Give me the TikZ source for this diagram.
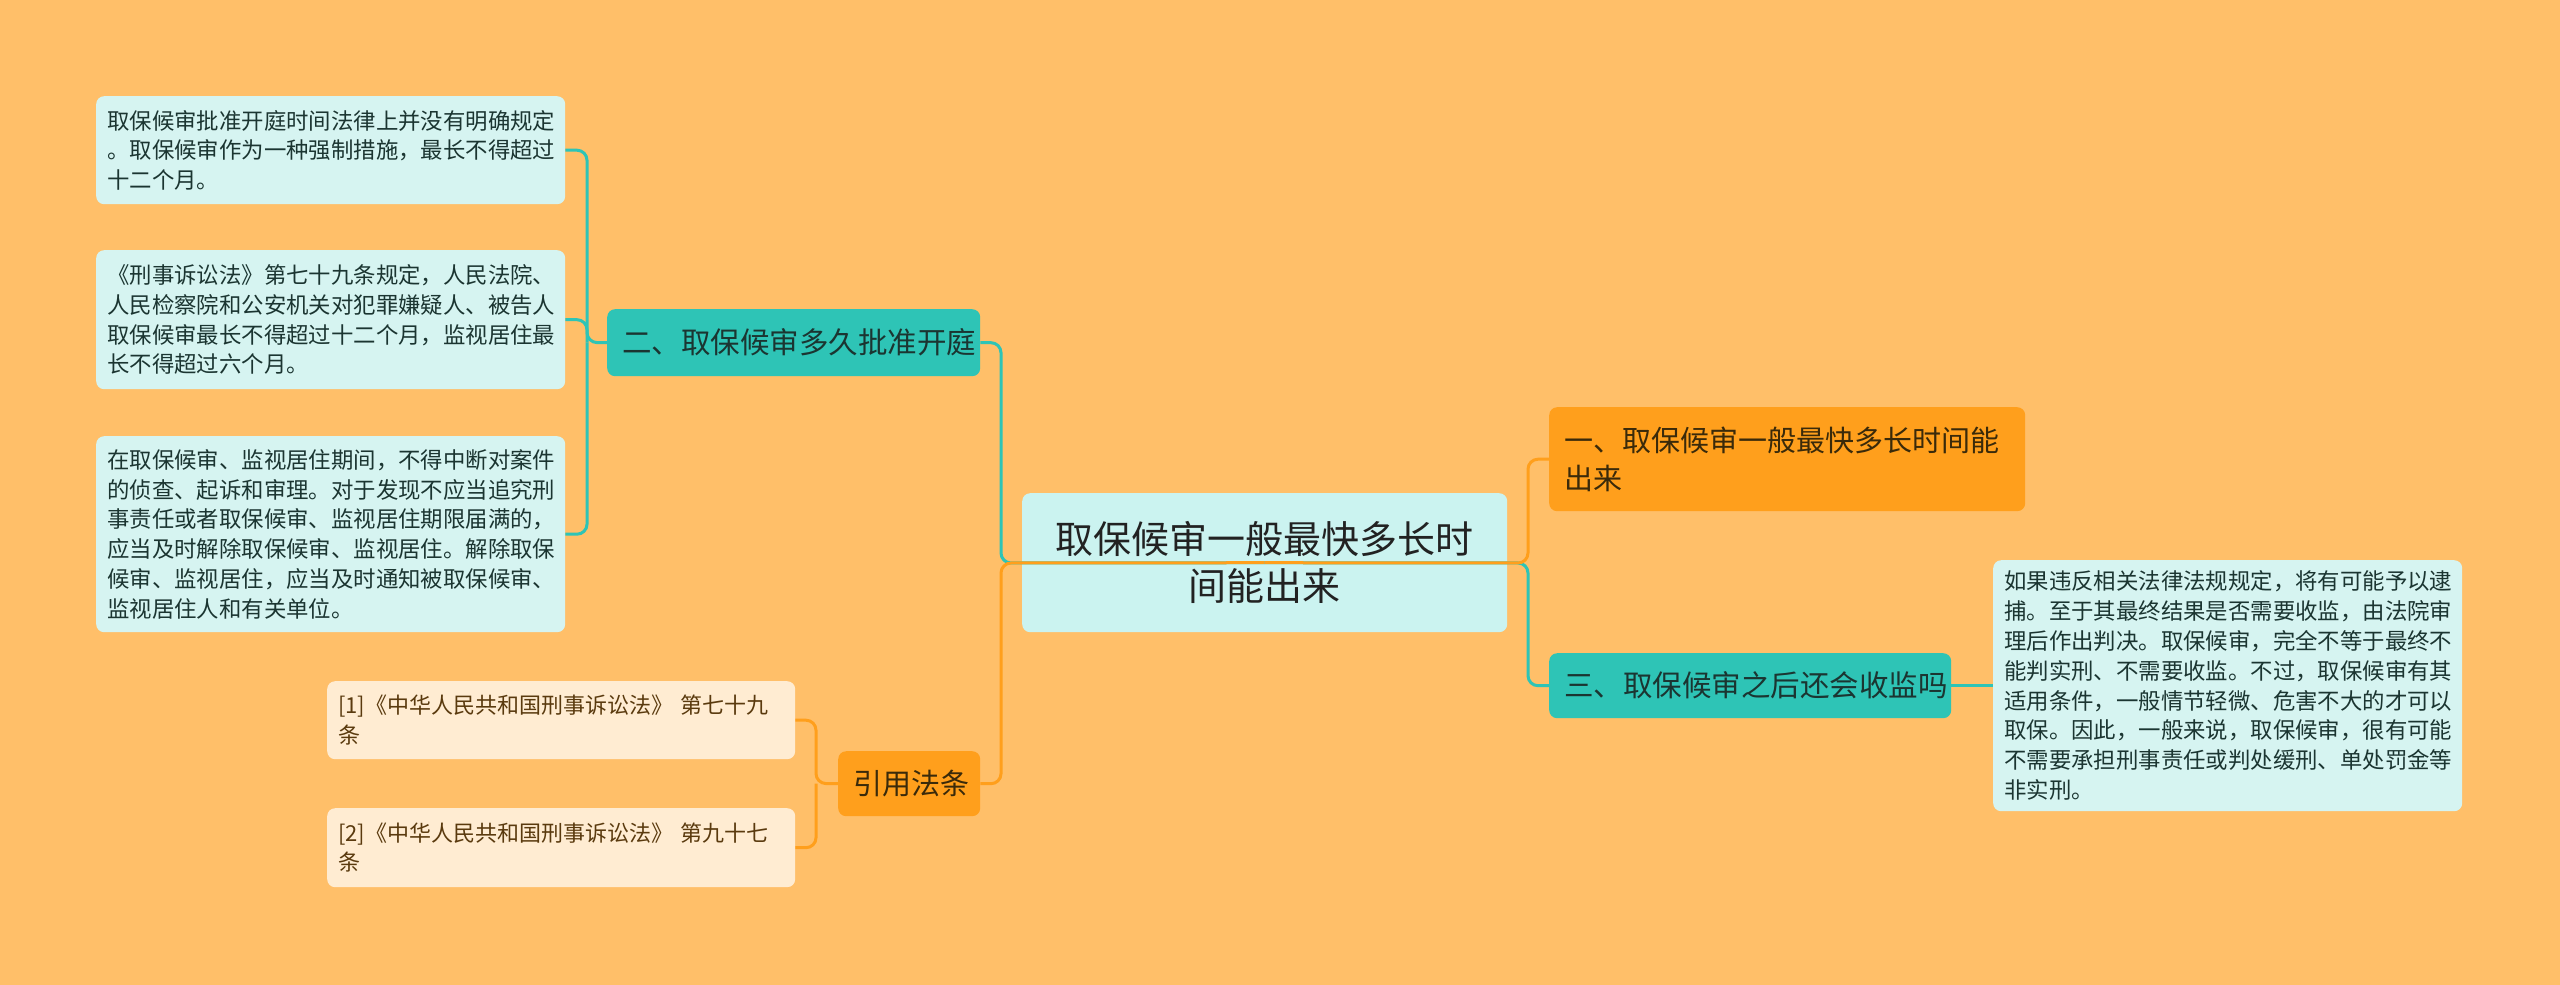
\documentclass[tikz,border=0pt]{standalone}
\usepackage{fontspec}
\setmainfont{Noto Sans CJK SC}
\definecolor{bg}{HTML}{FFBF69}
\definecolor{tealc}{HTML}{2EC4B6}
\definecolor{orangec}{HTML}{FF9F1C}
\definecolor{centerc}{HTML}{CBF3F0}
\definecolor{leafc}{HTML}{D6F4F1}
\definecolor{refc}{HTML}{FFECD2}
\definecolor{leaft}{HTML}{1B3531}
\definecolor{darkt}{HTML}{222222}
\definecolor{brownt}{HTML}{5A3A0E}
\definecolor{orat}{HTML}{3A2A0A}
\begin{document}
\begin{tikzpicture}[x=1pt,y=-1pt,
  box/.style={rounded corners=8pt, inner ysep=0pt, anchor=north west},
  leaf/.style={box, fill=leafc, text=leaft, font=\fontsize{22.4}{29.8}\selectfont, align=left, inner xsep=11pt},
  refbox/.style={box, fill=refc, text=brownt, font=\fontsize{22}{29.4}\selectfont, align=left, inner xsep=11pt},
  tealbox/.style={box, fill=tealc, text=leaft, font=\fontsize{29.5}{37}\selectfont, inner xsep=15pt},
  orbox/.style={box, fill=orangec, text=orat, font=\fontsize{29}{37.5}\selectfont, inner xsep=15pt},
  mainbox/.style={box, fill=centerc, text=darkt, font=\fontsize{38}{47}\selectfont, align=center, inner xsep=10pt},
  tline/.style={draw=tealc, line width=3pt, rounded corners=10pt},
  oline/.style={draw=orangec, line width=3pt, rounded corners=10pt}
]
\useasboundingbox (0,0) rectangle (2560,985);
\fill[bg] (0,0) rectangle (2560,985);

% nodes
\node[leaf, minimum height=108pt, text width=447pt] (l1) at (96,96)
 {取保候审批准开庭时间法律上并没有明确规定\\。取保候审作为一种强制措施，最长不得超过\\十二个月。};
\node[leaf, minimum height=139pt, text width=447pt] (l2) at (96,250)
 {《刑事诉讼法》第七十九条规定，人民法院、\\人民检察院和公安机关对犯罪嫌疑人、被告人\\取保候审最长不得超过十二个月，监视居住最\\长不得超过六个月。};
\node[leaf, minimum height=196pt, text width=447pt] (l3) at (96,436)
 {在取保候审、监视居住期间，不得中断对案件\\的侦查、起诉和审理。对于发现不应当追究刑\\事责任或者取保候审、监视居住期限届满的，\\应当及时解除取保候审、监视居住。解除取保\\候审、监视居住，应当及时通知被取保候审、\\监视居住人和有关单位。};
\node[tealbox, minimum height=67pt, text width=343pt, align=center] (n2) at (607,309)
 {二、取保候审多久批准开庭};
\node[mainbox, minimum height=139pt, text width=465pt] (c) at (1022,493)
 {取保候审一般最快多长时\\间能出来};
\node[orbox, minimum height=65pt, text width=112pt, align=center] (cite) at (838,751)
 {引用法条};
\node[refbox, minimum height=78pt, text width=446pt] (r1) at (327,681)
 {[1]《中华人民共和国刑事诉讼法》 第七十九\\条};
\node[refbox, minimum height=79pt, text width=446pt] (r2) at (327,808)
 {[2]《中华人民共和国刑事诉讼法》 第九十七\\条};
\node[orbox, minimum height=104pt, text width=446pt, align=left] (n1) at (1549,407)
 {一、取保候审一般最快多长时间能\\出来};
\node[tealbox, minimum height=65pt, text width=372pt, align=left] (n3) at (1549,653)
 {三、取保候审之后还会收监吗};
\node[leaf, minimum height=251pt, text width=447pt] (rt) at (1993,560)
 {如果违反相关法律法规规定，将有可能予以逮\\捕。至于其最终结果是否需要收监，由法院审\\理后作出判决。取保候审，完全不等于最终不\\能判实刑、不需要收监。不过，取保候审有其\\适用条件，一般情节轻微、危害不大的才可以\\取保。因此，一般来说，取保候审，很有可能\\不需要承担刑事责任或判处缓刑、单处罚金等\\非实刑。};

% trunk coordinates
\coordinate (tl) at (1001,563);
\coordinate (tr) at (1528,563);
\coordinate (t2) at (587,342.5);
\coordinate (tc) at (816,783.5);

% connectors from the central node
\draw[tline] (c.center) -- (tl) |- (n2.east);
\draw[tline] (c.center) -- (tr) |- (n3.west);
\draw[oline] (c.center) -- (tl) |- (cite.east);
\draw[oline] (c.center) -- (tr) |- (n1.west);

% second level
\draw[tline] (n2.west) -- (t2) |- (l1.east);
\draw[tline] (t2) |- (l2.east);
\draw[tline] (t2) |- (l3.east);
\draw[oline] (cite.west) -- (tc) |- (r1.east);
\draw[oline] (tc) |- (r2.east);
\draw[tline] (n3.east) -- (rt.west);
\end{tikzpicture}
\end{document}
